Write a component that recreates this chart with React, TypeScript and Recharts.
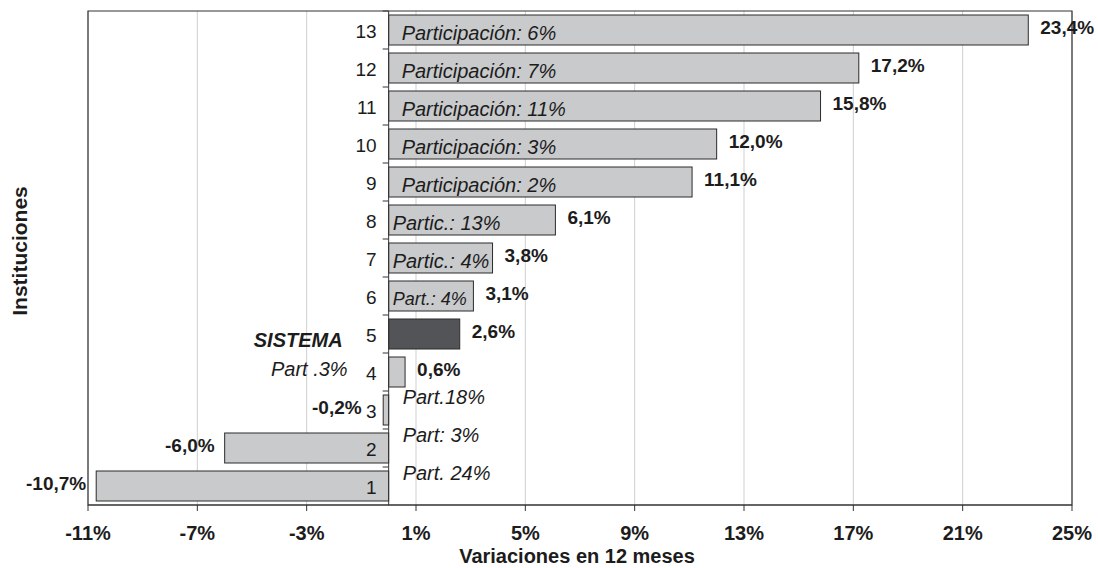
import { BarChart, Bar, XAxis, YAxis, CartesianGrid, ReferenceLine, ReferenceArea } from 'recharts';

const FONT = '"Liberation Sans", Arial, sans-serif';
const INK = '#1c1c1c';

const categories = ['1', '2', '3', '4', '5', '6', '7', '8', '9', '10', '11', '12', '13'];
const variations = [-10.7, -6.0, -0.2, 0.6, 2.6, 3.1, 3.8, 6.1, 11.1, 12.0, 15.8, 17.2, 23.4];
const shares = [
  'Part. 24%',
  'Part: 3%',
  'Part.18%',
  'Part .3%',
  'SISTEMA',
  'Part.: 4%',
  'Partic.: 4%',
  'Partic.: 13%',
  'Participación: 2%',
  'Participación: 3%',
  'Participación: 11%',
  'Participación: 7%',
  'Participación: 6%',
];
const xTicks = [-11, -7, -3, 1, 5, 9, 13, 17, 21, 25];
const SYSTEM = '5';

const data = categories.map((name, i) => ({ name, variation: variations[i], share: shares[i] }));

const W = 1098;
const H = 568;
const MARGIN = { top: 11, right: 26, bottom: 0, left: 88 };
const X_AXIS_H = 63;
const BAR_SIZE = 30;
const BAND = (H - MARGIN.top - X_AXIS_H) / categories.length;
const GAP = (BAND - BAR_SIZE) / 2;

const fmt = (v: number) => v.toFixed(1).replace('.', ',') + '%';

function BarWithLabels(props: any) {
  const { x, y, width, height, payload } = props;
  const v: number = payload.variation;
  const left = Math.min(x, x + width);
  const right = Math.max(x, x + width);
  const x0 = v < 0 ? right : left;
  const w = right - left;
  const cy = y + height / 2;
  const isSystem = payload.name === SYSTEM;

  // participation text
  let share;
  if (isSystem) {
    share = (
      <text x={x0 - 46} y={cy + 6} textAnchor="end" dominantBaseline="central"
        fontSize={20} fontWeight="bold" fontStyle="italic" fill={INK} fontFamily={FONT}>
        {payload.share}
      </text>
    );
  } else if (v < 0) {
    share = (
      <text x={x0 + 14} y={cy - 13} textAnchor="start" dominantBaseline="central"
        fontSize={20} fontStyle="italic" fill={INK} fontFamily={FONT}>
        {payload.share}
      </text>
    );
  } else if (v < 1) {
    share = (
      <text x={x0 - 41} y={cy - 3} textAnchor="end" dominantBaseline="central"
        fontSize={20} fontStyle="italic" fill={INK} fontFamily={FONT}>
        {payload.share}
      </text>
    );
  } else {
    share = (
      <text x={left + (w > 200 ? 13 : 4)} y={cy + 3} textAnchor="start" dominantBaseline="central"
        fontSize={w > 90 ? 20 : 18} fontStyle="italic" fill={INK} fontFamily={FONT}>
        {payload.share}
      </text>
    );
  }

  const valueX = v >= 0 ? right + 12 : Math.min(left - 10, x0 - 27);

  return (
    <g>
      <rect x={left} y={y} width={Math.max(w, 0.5)} height={height}
        fill={isSystem ? '#535458' : '#c9cacc'} stroke="#2b2b2b" strokeWidth={1} />
      <line x1={x0 - 6} x2={x0} y1={y - GAP} y2={y - GAP} stroke="#333" />
      <text x={x0 - 12} y={cy + 1} textAnchor="end" dominantBaseline="central"
        fontSize={19} fill={INK} fontFamily={FONT}>
        {payload.name}
      </text>
      <text x={valueX} y={cy - 3} textAnchor={v >= 0 ? 'start' : 'end'} dominantBaseline="central"
        fontSize={19} fontWeight="bold" fill={INK} fontFamily={FONT}>
        {fmt(v)}
      </text>
      {share}
    </g>
  );
}

export default function App() {
  return (
    <div style={{ position: 'absolute', left: 0, top: 0, background: '#fff' }}>
      <BarChart width={W} height={H} data={data} layout="vertical" margin={MARGIN} barSize={BAR_SIZE}>
        <CartesianGrid horizontal={false} stroke="#cfcfcf" />
        <XAxis
          type="number"
          domain={[-11, 25]}
          ticks={xTicks}
          interval={0}
          height={X_AXIS_H}
          tickFormatter={(v: number) => `${v}%`}
          axisLine={{ stroke: '#333' }}
          tickLine={{ stroke: '#333' }}
          tickSize={6}
          tickMargin={15}
          tick={{ fontSize: 20, fontWeight: 'bold', fill: INK, fontFamily: FONT }}
          label={{
            content: () => (
              <g>
                <text x={577} y={556} textAnchor="middle" dominantBaseline="central"
                  fontSize={20} fontWeight="bold" fill={INK} fontFamily={FONT}>
                  Variaciones en 12 meses
                </text>
                <text x={19} y={251} transform="rotate(-90 19 251)" textAnchor="middle" dominantBaseline="central"
                  fontSize={21} fontWeight="bold" fill={INK} fontFamily={FONT}>
                  Instituciones
                </text>
              </g>
            ),
          }}
        />
        <YAxis type="category" dataKey="name" reversed hide />
        <ReferenceArea x1={-11} x2={25} fill="none" stroke="#333" strokeWidth={1.2} fillOpacity={0} />
        <ReferenceLine x={0} stroke="#333" />
        <Bar dataKey="variation" isAnimationActive={false} shape={BarWithLabels} />
      </BarChart>
    </div>
  );
}
